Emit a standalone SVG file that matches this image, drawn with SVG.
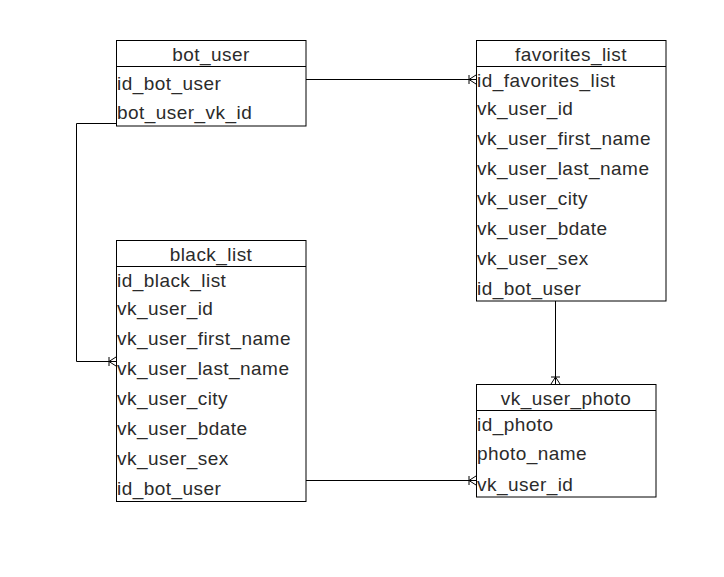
<svg xmlns="http://www.w3.org/2000/svg" width="724" height="577" viewBox="0 0 724 577">
  <defs>
    <!-- crow's foot "many" end, drawn pointing right (tip at the entity edge) -->
    <marker id="many" markerUnits="userSpaceOnUse" markerWidth="12" markerHeight="12" viewBox="-8 -6 12 12" refX="0" refY="0" orient="auto" overflow="visible">
      <path d="M-7,-4.5 L-7,4.5 M-7,0 L0,-4.5 M-7,0 L0,4.5" fill="none" stroke="#000" stroke-width="1"/>
    </marker>
  </defs>
  <style>
    .box { fill: #fff; stroke: #000; stroke-width: 1; }
    .sep { stroke: #000; stroke-width: 1; }
    .title { font-family: "Liberation Sans", Arial, sans-serif; font-size: 19px; letter-spacing: 0.45px; fill: #2b2b2b; text-anchor: middle; }
    .row { font-family: "Liberation Sans", Arial, sans-serif; font-size: 19px; letter-spacing: 0.45px; fill: #2b2b2b; }
    .edge { fill: none; stroke: #000; stroke-width: 1; }
  </style>
  <rect width="724" height="577" fill="#fff"/>

  <g id="connectors">
    <path class="edge" d="M306,79.5 L476,79.5" marker-end="url(#many)"/>
    <path class="edge" d="M116,123.5 L76.5,123.5 L76.5,361.5 L116,361.5" marker-end="url(#many)"/>
    <path class="edge" d="M555.5,301 L555.5,384" marker-end="url(#many)"/>
    <path class="edge" d="M306,480.5 L476,480.5" marker-end="url(#many)"/>
  </g>

  <g id="bot_user">
    <rect class="box" x="116.5" y="40.5" width="189.5" height="85.5"/>
    <line class="sep" x1="116.5" y1="66.5" x2="306" y2="66.5"/>
    <text class="title" x="211" y="61">bot_user</text>
    <text class="row" x="117" y="90">id_bot_user</text>
    <text class="row" x="117" y="119">bot_user_vk_id</text>
  </g>

  <g id="favorites_list">
    <rect class="box" x="476.5" y="40.5" width="189.5" height="260.5"/>
    <line class="sep" x1="476.5" y1="66.5" x2="666" y2="66.5"/>
    <text class="title" x="571" y="61">favorites_list</text>
    <text class="row" x="477" y="87">id_favorites_list</text>
    <text class="row" x="477" y="115">vk_user_id</text>
    <text class="row" x="477" y="145">vk_user_first_name</text>
    <text class="row" x="477" y="175">vk_user_last_name</text>
    <text class="row" x="477" y="205">vk_user_city</text>
    <text class="row" x="477" y="235">vk_user_bdate</text>
    <text class="row" x="477" y="265">vk_user_sex</text>
    <text class="row" x="477" y="295">id_bot_user</text>
  </g>

  <g id="black_list">
    <rect class="box" x="116.5" y="240.5" width="189.5" height="261"/>
    <line class="sep" x1="116.5" y1="266.5" x2="306" y2="266.5"/>
    <text class="title" x="211" y="261">black_list</text>
    <text class="row" x="117" y="287">id_black_list</text>
    <text class="row" x="117" y="315">vk_user_id</text>
    <text class="row" x="117" y="345">vk_user_first_name</text>
    <text class="row" x="117" y="375">vk_user_last_name</text>
    <text class="row" x="117" y="405">vk_user_city</text>
    <text class="row" x="117" y="435">vk_user_bdate</text>
    <text class="row" x="117" y="465">vk_user_sex</text>
    <text class="row" x="117" y="495">id_bot_user</text>
  </g>

  <g id="vk_user_photo">
    <rect class="box" x="476.5" y="384.5" width="179.5" height="112.5"/>
    <line class="sep" x1="476.5" y1="410.5" x2="656" y2="410.5"/>
    <text class="title" x="566" y="405">vk_user_photo</text>
    <text class="row" x="477" y="431">id_photo</text>
    <text class="row" x="477" y="460">photo_name</text>
    <text class="row" x="477" y="491">vk_user_id</text>
  </g>
</svg>
